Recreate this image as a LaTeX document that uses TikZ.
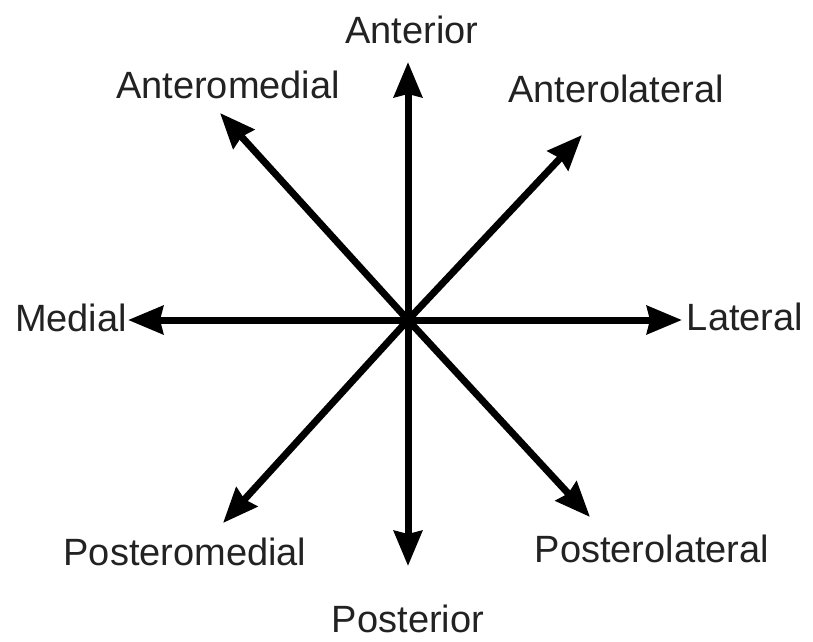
\documentclass[tikz,border=0pt]{standalone}
\usepackage{fontspec}
\setmainfont{Liberation Sans}
\usetikzlibrary{arrows.meta}
\definecolor{labeltext}{HTML}{222222}

\begin{document}
\begin{tikzpicture}[
  x=1pt, y=-1pt,
  lbl/.style={anchor=base, inner sep=0pt, text=labeltext, font=\fontsize{38}{44}\selectfont},
  arr/.style={-{Stealth[length=35pt, width=28pt, inset=3pt]}, line width=7pt},
]
\useasboundingbox (0,0) rectangle (813,641);

% Centre and arrow tips
\coordinate (o) at (408,320);
\coordinate (ant) at (408,62);
\coordinate (antmed) at (220,113);
\coordinate (antlat) at (582,135);
\coordinate (med) at (128,320);
\coordinate (lat) at (682,320);
\coordinate (postmed) at (223,523);
\coordinate (postlat) at (590,517);
\coordinate (post) at (408,566);

% Labels
\node[lbl] (tAnt) at (412,43) {Anterior};
\node[lbl] (tAntMed) at (228,98) {Anteromedial};
\node[lbl] (tAntLat) at (616,102) {Anterolateral};
\node[lbl] (tMed) at (71,331) {Medial};
\node[lbl] (tLat) at (745,330) {Lateral};
\node[lbl] (tPostMed) at (185,565) {Posteromedial};
\node[lbl] (tPostLat) at (652,562) {Posterolateral};
\node[lbl] (tPost) at (408,632) {Posterior};

% Arrows
\foreach \t in {ant, antmed, antlat, med, lat, postmed, postlat, post}
  \draw[arr] (o) -- (\t);

\end{tikzpicture}
\end{document}
